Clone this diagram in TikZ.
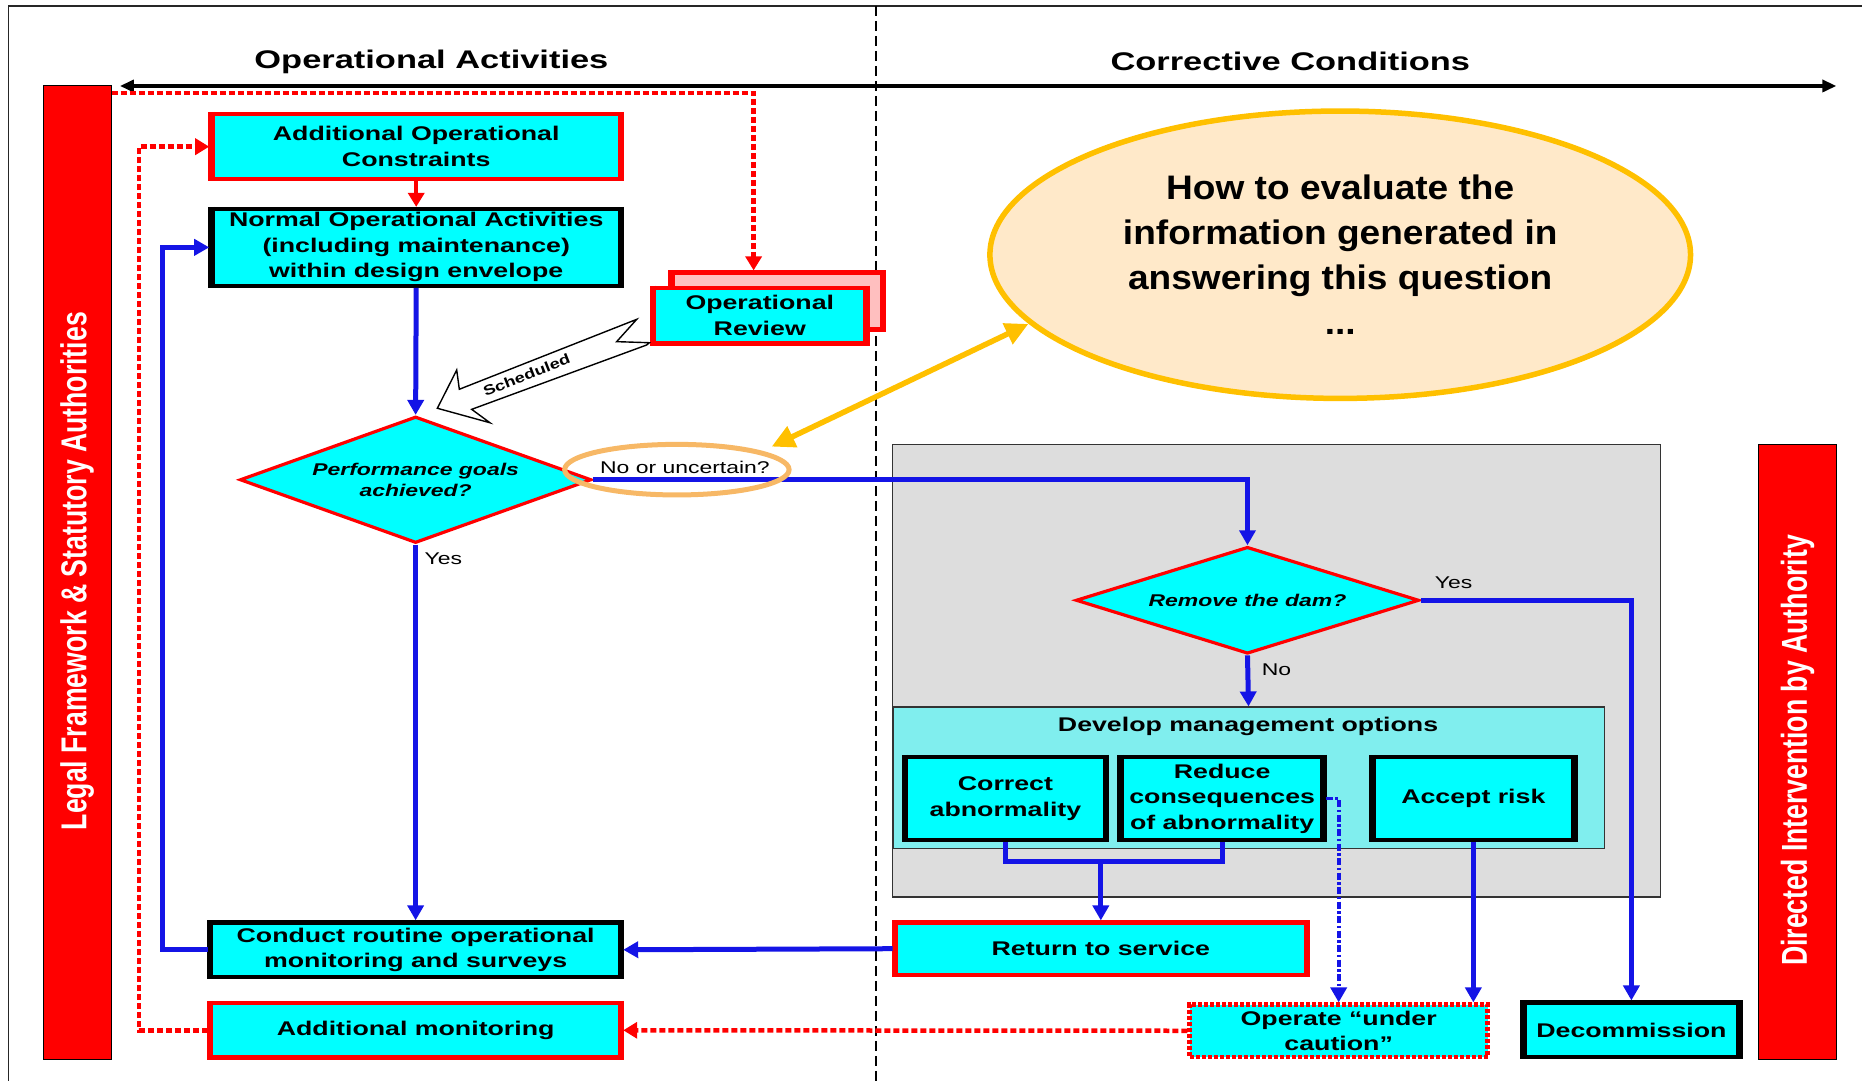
\documentclass[tikz,border=0pt]{standalone}
\usepackage{fontspec}
\setmainfont{Liberation Sans}[FakeStretch=1.35]
\newfontfamily\bubblefont{Liberation Sans}[FakeStretch=1.09]
\newfontfamily\barfont{Liberation Sans}[FakeStretch=0.74]
\newfontfamily\slantfont{Liberation Sans}[FakeStretch=1.3]
\usetikzlibrary{arrows.meta,shapes.geometric,calc}

\definecolor{boxcyan}{HTML}{00FFFF}
\definecolor{flowblue}{HTML}{1414E6}
\definecolor{alarmred}{HTML}{FF0000}
\definecolor{goldline}{HTML}{FFC000}
\definecolor{peach}{HTML}{FFE9C9}
\definecolor{ringorange}{HTML}{F7B866}
\definecolor{panelgray}{HTML}{DDDDDD}
\definecolor{optcyan}{HTML}{80EEEE}
\definecolor{shadowpink}{HTML}{FFBFBF}

\begin{document}
\begin{tikzpicture}[
  x=1.1875pt, y=-1.1875pt,
  wh/.style 2 args={minimum width=#1*1.1875pt, minimum height=#2*1.1875pt},
  boxfont/.style={font=\fontsize{19.8}{25.5}\selectfont\bfseries},
  cyanbox/.style={rectangle, boxfont, align=center, inner sep=0pt, fill=boxcyan},
  redbox/.style={cyanbox, draw=alarmred, line width=4.3pt},
  blackbox/.style={cyanbox, draw=black, line width=4.3pt},
  decision/.style={diamond, aspect=2.8, inner sep=0pt, fill=boxcyan, draw=alarmred,
    line width=3.2pt, align=center, font=\fontsize{17}{21.5}\selectfont\bfseries\itshape},
  tag/.style={font=\fontsize{17}{20}\selectfont, inner sep=0pt},
  header/.style={font=\fontsize{25.5}{30}\selectfont\bfseries, inner sep=0pt},
  sidebar/.style={rectangle, fill=alarmred, draw=black, line width=1pt, inner sep=0pt},
  bartext/.style={font=\barfont\fontsize{36}{40}\selectfont\bfseries, text=white,
    rotate=90, inner sep=0pt},
  flowtip/.style={-{Triangle[length=15pt,width=16pt]}},
  flow/.style={draw=flowblue, line width=5pt},
  dotflow/.style={draw=flowblue, line width=3.8pt,
    dash pattern=on 7pt off 2.5pt on 2.5pt off 2.5pt},
  redflow/.style={draw=alarmred, line width=4.5pt},
  reddots/.style={draw=alarmred, line width=4.5pt, dash pattern=on 6pt off 3pt},
  redtip/.style={-{Triangle[length=14pt,width=16pt]}},
  sides/.style={line width=6.5pt}
]
\useasboundingbox (0,0) rectangle (1568,910);

% frame and the dividing line between the two halves
\draw[line width=1.4pt, black!85] (7,910) -- (7,5) -- (1568,5);
\coordinate (divTop) at (737.7,5);
\coordinate (divBot) at (737.7,910);
\draw[line width=2.4pt, dash pattern=on 10pt off 5pt] (divTop) -- (divBot);

% headings and the time axis
\node[header] (hdrL) at (363.3,52) {Operational Activities};
\node[header] (hdrR) at (1086.6,52) {Corrective Conditions};
\coordinate (axisL) at (101,72.4);
\coordinate (axisR) at (1546.4,72.4);
\draw[line width=3.4pt, {Triangle[length=14pt,width=12pt]}-{Triangle[length=14pt,width=12pt]}]
  (axisL) -- (axisR);

% side bars
\node[sidebar, wh={57}{820}] (lbar) at (65,481.8) {};
\node[bartext] (ltext) at (65,481) {Legal Framework \& Statutory Authorities};
\node[sidebar, wh={66}{518}] (rbar) at (1513.8,633.3) {};
\node[bartext] (rtext) at (1513.8,632) {Directed Intervention by Authority};

% corrective panel
\node[rectangle, fill=panelgray, draw=black!80, line width=1.4pt, wh={646.7}{381}]
  (panel) at (1075,565) {};
\node[rectangle, fill=optcyan, draw=black!80, line width=1.4pt, wh={599}{119}]
  (mgmt) at (1051.4,655) {};
\node[boxfont, inner sep=0pt] (mgmttitle) at (1051,612) {Develop management options};

% operational review with its shadow sheet
\node[redbox, fill=shadowpink, wh={178}{48}] (revback) at (654.6,253.5) {};
\draw[alarmred, sides] ([xshift=2.15pt]revback.north west) -- ([xshift=2.15pt]revback.south west)
  ([xshift=-2.15pt]revback.north east) -- ([xshift=-2.15pt]revback.south east);
\node[redbox, wh={180}{47}] (review) at (639.8,265.8) {Operational\\Review};

% boxes
\node[redbox, wh={345}{55}] (aoc) at (350.5,123.5) {Additional Operational\\Constraints};
\node[blackbox, wh={345}{64.5}] (noa) at (350.5,208.3)
  {Normal Operational Activities\\(including maintenance)\\within design envelope};
\node[blackbox, wh={346}{46}] (conduct) at (350,799.8)
  {Conduct routine operational\\monitoring and surveys};
\node[redbox, wh={346}{46}] (addmon) at (350,867.6) {Additional monitoring};
\node[redbox, wh={347}{44}] (return) at (927,798.9) {Return to service};
\node[cyanbox, draw=alarmred, line width=4.5pt, dash pattern=on 4pt off 2pt, wh={251}{44}]
  (operate) at (1127.3,868) {Operate “under\\caution”};
\node[blackbox, wh={182}{46}] (decomm) at (1373.8,867.3) {Decommission};
\node[blackbox, wh={169}{70}] (correct) at (846.7,672.4) {Correct\\abnormality};
\node[blackbox, wh={171}{70}] (reduce) at (1029.2,672.4) {Reduce\\consequences\\of abnormality};
\node[blackbox, wh={170}{70}] (accept) at (1240.7,672.4) {Accept risk};

% heavier vertical edges of the boxes
\foreach \n/\c in {review/alarmred, aoc/alarmred, noa/black, conduct/black, addmon/alarmred,
    return/alarmred, decomm/black, correct/black, reduce/black, accept/black}{
  \draw[draw=\c, sides] ([xshift=2.15pt]\n.north west) -- ([xshift=2.15pt]\n.south west)
    ([xshift=-2.15pt]\n.north east) -- ([xshift=-2.15pt]\n.south east);
}

% decisions
\node[decision, wh={296}{106.5}] (perf) at (350,404) {Performance goals\\achieved?};
\node[decision, wh={289}{90}] (dam) at (1050.5,505.5) {Remove the dam?};

% scheduled review arrow
\draw[fill=white, draw=black, line width=1.4pt, line join=miter]
  (368.3,343.8) -- (384.6,311.6) -- (386.8,327.8) -- (536.2,268.9) -- (519.3,287.7)
  -- (546.8,288.6) -- (544.6,290.5) -- (397.2,344.7) -- (412.6,356) -- cycle;
\node[font=\slantfont\fontsize{14}{16}\selectfont\bfseries, rotate=21.5, inner sep=0pt]
  (sched) at (443.5,315.8) {Scheduled};

% flow connectors
\draw[redflow, redtip] (aoc.south) -- (noa.north);
\draw[flow, flowtip] (noa.south) -- (perf.north);
\draw[flow, flowtip] (perf.south) -- (conduct.north);
\draw[flow, flowtip] (perf.east) -| (dam.north);
\draw[flow, flowtip] (dam.east) -| (decomm.north);
\draw[flow, flowtip] (dam.south) -- (mgmt.north);
\coordinate (join) at (927,725.6);
\draw[flow] (correct.south) |- (join) -| (reduce.south);
\draw[flow, flowtip] (join) -- (return.north);
\draw[dotflow, flowtip] (reduce.east) -| (operate.north);
\draw[flow, flowtip] (accept.south) -- (accept.south |- operate.north);
\draw[flow, flowtip] (return.west) -- (conduct.east);
\draw[flow, flowtip] (conduct.west) -- ++(-38.6,0) |- (noa.west);
\draw[reddots, redtip] (operate.west) -- (addmon.east);
\draw[reddots, redtip] (addmon.west) -- ++(-58,0) |- (aoc.west);
\coordinate (barTap) at ($(lbar.north east)+(0,7)$);
\draw[reddots, redtip] (barTap) -| ($(revback.north west)!0.39!(revback.north east)$);

% branch labels
\node[tag] (yes1) at (373.4,470.8) {Yes};
\node[tag] (yes2) at (1224,491) {Yes};
\node[tag] (no2) at (1075,564) {No};
\node[tag] (nolabel) at (576.8,393.5) {No or uncertain?};
\node[ellipse, draw=ringorange, line width=5pt, wh={189}{42.6}, inner sep=0pt]
  (ring) at (570,395.5) {};

% question bubble
\node[ellipse, fill=peach, draw=goldline, line width=5.5pt, wh={590}{242}, inner sep=0pt,
  align=center, font=\bubblefont\fontsize{34}{45}\selectfont\bfseries]
  (bubble) at (1128.6,214.5)
  {How to evaluate the\\information generated in\\answering this question\\...};
\coordinate (goldA) at (649.8,376.1);
\coordinate (goldB) at (866,272.8);
\draw[goldline, line width=5.5pt,
  {Triangle[length=23pt,width=22pt]}-{Triangle[length=23pt,width=22pt]}] (goldA) -- (goldB);
\end{tikzpicture}
\end{document}
